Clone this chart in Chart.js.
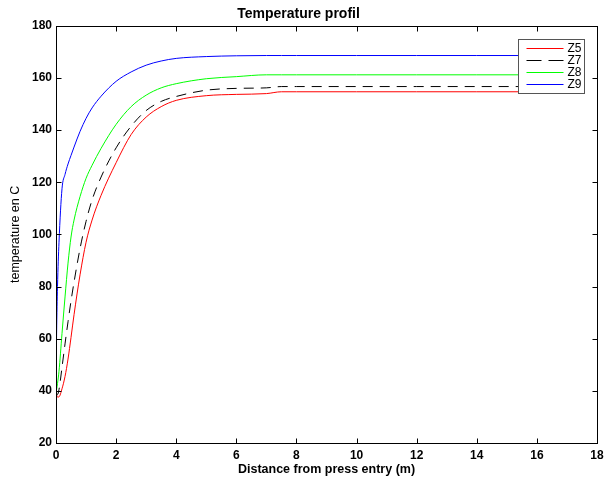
<!DOCTYPE html>
<html lang="en">
<head>
  <meta charset="UTF-8">
  <title>Temperature profil</title>
  <script src="https://cdn.jsdelivr.net/npm/chart.js"></script>
  <style>
    * { margin: 0; padding: 0; box-sizing: border-box; }
    body { background: #fff; width: 604px; height: 481px; overflow: hidden; }
    canvas { display: block; }
  </style>
</head>
<body>
  <canvas id="tempChart" width="604" height="481"></canvas>

  <script>
    // distance from press entry (m)
    const xDist = [0, 0.02, 0.05, 0.1, 0.2, 0.3, 0.4, 0.5, 0.6, 0.8, 1.0, 1.2, 1.5, 2.0, 2.5, 3.0, 3.5, 4.0, 5.0, 6.0, 7.0, 7.5, 8, 10, 12, 14, 16];

    // temperatures (C)
    const z5 = [39.5, 38.6, 37.6, 37.7, 40.8, 45.5, 52.2, 60.5, 69.2, 84.5, 97, 105.5, 115, 127.5, 138.3, 145, 149, 151.4, 153.2, 153.7, 154.0, 154.7, 154.7, 154.7, 154.7, 154.7, 154.7];
    const z7 = [39.5, 39, 38.6, 40.5, 49, 58, 66.5, 74.5, 81.7, 94.6, 105, 113.2, 122, 133.2, 141.5, 147.5, 151, 152.9, 155.3, 156, 156.2, 156.7, 156.7, 156.7, 156.7, 156.7, 156.7];
    const z8 = [39.5, 40.5, 42.8, 47.5, 62, 76, 89, 99, 105.5, 114.5, 121.5, 126.5, 133, 142.2, 149, 153.4, 156.2, 157.8, 159.7, 160.5, 161.2, 161.2, 161.2, 161.2, 161.2, 161.2, 161.2];
    const z9 = [42, 62, 80, 97, 117.5, 123, 127, 130.3, 133.5, 139.5, 144.5, 148.5, 153, 158.7, 162.3, 164.9, 166.5, 167.5, 168.2, 168.5, 168.6, 168.6, 168.6, 168.6, 168.6, 168.6, 168.6];

    const seriesNames = ["Z5", "Z7", "Z8", "Z9"];
    const xTicks = [0, 2, 4, 6, 8, 10, 12, 14, 16, 18];
    const yTicks = [20, 40, 60, 80, 100, 120, 140, 160, 180];

    const FONT = "'Liberation Sans', Arial, sans-serif";

    function pts(ys) {
      return xDist.map((x, i) => ({ x: x, y: ys[i] }));
    }

    function lineSet(label, ys, color, dash) {
      return {
        label: label,
        data: pts(ys),
        borderColor: color,
        borderWidth: 1,
        borderDash: dash || [],
        pointRadius: 0,
        fill: false,
        cubicInterpolationMode: 'monotone'
      };
    }

    // box around the axes with inward ticks, matlab style
    const boxPlugin = {
      id: 'box',
      afterDraw(chart) {
        const ctx = chart.ctx;
        const a = chart.chartArea;
        const sx = chart.scales.x, sy = chart.scales.y;
        const L = Math.round(a.left) + 0.5, R = Math.round(a.right) + 0.5;
        const T = Math.round(a.top) + 0.5, B = Math.round(a.bottom) + 0.5;
        ctx.save();
        ctx.strokeStyle = '#000';
        ctx.lineWidth = 1;
        ctx.setLineDash([]);
        ctx.strokeRect(L, T, R - L, B - T);
        ctx.beginPath();
        xTicks.forEach(v => {
          const px = Math.round(sx.getPixelForValue(v)) + 0.5;
          ctx.moveTo(px, B); ctx.lineTo(px, B - 5);
          ctx.moveTo(px, T); ctx.lineTo(px, T + 5);
        });
        yTicks.forEach(v => {
          const py = Math.round(sy.getPixelForValue(v)) + 0.5;
          ctx.moveTo(L, py); ctx.lineTo(L + 5, py);
          ctx.moveTo(R, py); ctx.lineTo(R - 5, py);
        });
        ctx.stroke();
        ctx.restore();
      }
    };

    // legend box in the upper right corner of the axes
    const legendBox = {
      id: 'legendBox',
      afterDraw(chart) {
        const ctx = chart.ctx;
        const a = chart.chartArea;
        const w = 66, h = 54;
        const x0 = Math.round(a.right) - 13 - w + 0.5;
        const y0 = Math.round(a.top) + 13 + 0.5;
        ctx.save();
        ctx.fillStyle = '#fff';
        ctx.fillRect(x0, y0, w, h);
        ctx.strokeStyle = '#555';
        ctx.lineWidth = 1;
        ctx.strokeRect(x0, y0, w, h);
        ctx.font = "12px " + FONT;
        ctx.textBaseline = 'middle';
        ctx.textAlign = 'left';
        chart.data.datasets.forEach((ds, i) => {
          const y = Math.round(y0 + 8 + i * 12.3) + 0.5;
          ctx.beginPath();
          ctx.strokeStyle = ds.borderColor;
          ctx.setLineDash(ds.borderDash && ds.borderDash.length ? [15, 7] : []);
          ctx.moveTo(x0 + 8, y);
          ctx.lineTo(x0 + 45, y);
          ctx.stroke();
          ctx.fillStyle = '#000';
          ctx.fillText(ds.label, x0 + 49, y);
        });
        ctx.restore();
      }
    };

    const ctx = document.getElementById("tempChart").getContext("2d");
    new Chart(ctx, {
      type: 'line',
      data: {
        datasets: [
          lineSet(seriesNames[0], z5, '#ff0000'),
          lineSet(seriesNames[1], z7, '#000000', [10, 7]),
          lineSet(seriesNames[2], z8, '#00ff00'),
          lineSet(seriesNames[3], z9, '#0000ff')
        ]
      },
      options: {
        responsive: false,
        animation: false,
        layout: { padding: { left: 0, right: 7, top: 0, bottom: 0 } },
        plugins: {
          legend: { display: false },
          tooltip: { enabled: false },
          title: {
            display: true,
            text: 'Temperature profil',
            color: '#000',
            font: { family: FONT, size: 14, weight: 'bold' },
            padding: { top: 6, bottom: 3 }
          }
        },
        scales: {
          x: {
            type: 'linear',
            min: 0,
            max: 18,
            afterBuildTicks: s => { s.ticks = xTicks.map(v => ({ value: v })); },
            afterFit: s => { s.height = 38; s.paddingLeft = 0; s.paddingRight = 0; },
            grid: { display: false, drawTicks: false },
            border: { display: false },
            ticks: {
              color: '#000',
              padding: 5,
              maxRotation: 0,
              font: { family: FONT, size: 12, weight: 'bold' }
            },
            title: {
              display: true,
              text: 'Distance from press entry (m)',
              color: '#000',
              font: { family: FONT, size: 12.5, weight: 'bold' },
              padding: { top: 0, bottom: 4 }
            }
          },
          y: {
            min: 20,
            max: 180,
            afterBuildTicks: s => { s.ticks = yTicks.map(v => ({ value: v })); },
            afterFit: s => { s.width = 56; },
            grid: { display: false, drawTicks: false },
            border: { display: false },
            ticks: {
              color: '#000',
              padding: 4,
              font: { family: FONT, size: 12, weight: 'bold' }
            },
            title: {
              display: true,
              text: 'temperature en C',
              color: '#000',
              font: { family: FONT, size: 12.5 },
              padding: { top: 8, bottom: 0 }
            }
          }
        }
      },
      plugins: [boxPlugin, legendBox]
    });
  </script>
</body>
</html>
